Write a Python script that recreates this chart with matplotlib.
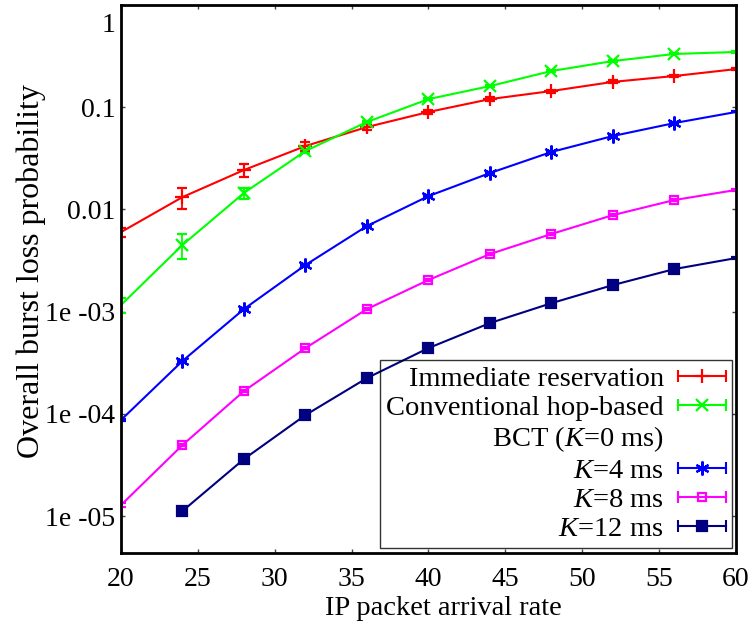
import matplotlib
matplotlib.use("Agg")
import matplotlib.pyplot as plt
import matplotlib.transforms as mtransforms
import numpy as np
from matplotlib.lines import Line2D
from matplotlib.legend_handler import HandlerLine2D

plt.rcParams['font.family'] = ['Liberation Serif', 'DejaVu Serif']
plt.rcParams['mathtext.fontset'] = 'custom'
plt.rcParams['mathtext.rm'] = 'Liberation Serif'
plt.rcParams['mathtext.it'] = 'Liberation Serif:italic'

# ---- data ----
rate = [20, 24, 28, 32, 36, 40, 44, 48, 52, 56, 60]
rate_k12 = [24, 28, 32, 36, 40, 44, 48, 52, 56, 60]

immediate = [6.0e-3, 0.0132, 0.0243, 0.0417, 0.064, 0.0898, 0.120, 0.144, 0.177, 0.202, 0.236]
immediate_err = [0.0006, 0.003, 0.0035, 0.004, 0.004, 0.004, 0.005, 0.005, 0.006, 0.006, 0.007]

conventional = [1.16e-3, 4.49e-3, 0.0145, 0.0373, 0.0717, 0.120, 0.161, 0.226, 0.283, 0.332, 0.347]
conventional_err = [0.0002, 0.0012, 0.0018, 0.002, 0.002, 0.003, 0.003, 0.004, 0.004, 0.004, 0.004]

k4 = [8.7e-5, 3.29e-4, 1.06e-3, 2.86e-3, 6.88e-3, 0.0135, 0.0227, 0.0365, 0.0523, 0.070, 0.0898]
k4_err = [2e-6, 8e-6, 2e-5, 5e-5, 1e-4, 2e-4, 3e-4, 5e-4, 7e-4, 9e-4, 1e-3]

k8 = [1.28e-5, 4.95e-5, 1.67e-4, 4.40e-4, 1.06e-3, 2.04e-3, 3.66e-3, 5.75e-3, 8.8e-3, 0.01236, 0.01549]
k8_err = [5e-7, 1.5e-6, 4e-6, 1e-5, 2e-5, 4e-5, 7e-5, 1e-4, 1.5e-4, 2e-4, 2.5e-4]

k12 = [1.12e-5, 3.61e-5, 9.73e-5, 2.24e-4, 4.40e-4, 7.73e-4, 1.21e-3, 1.82e-3, 2.61e-3, 3.34e-3]
k12_err = [6e-7, 1.5e-6, 3e-6, 6e-6, 1.2e-5, 2e-5, 3e-5, 4e-5, 5e-5, 6e-5]

labels = ['Immediate reservation', 'Conventional hop-based',
          '$K$=4 ms', '$K$=8 ms', '$K$=12 ms']
label_cont = 'BCT ($K$=0 ms)'
yticks = [1e-5, 1e-4, 1e-3, 1e-2, 1e-1, 1]
ytick_labels = ['1e -05', '1e -04', '1e -03', '0.01', '0.1', '1']
xticks = [20, 25, 30, 35, 40, 45, 50, 55, 60]

series = [
    (rate, immediate, immediate_err, 'red', '+', 10, 'red'),
    (rate, conventional, conventional_err, '#00ff00', 'x', 8, '#00ff00'),
    (rate, k4, k4_err, 'blue', (6, 2, 0), 10, 'blue'),
    (rate, k8, k8_err, '#ff00ff', 's', 6, 'none'),
    (rate_k12, k12, k12_err, '#000080', 's', 7, '#000080'),
]

fig = plt.figure(figsize=(7.52, 6.34), dpi=100)
ax = fig.add_axes([0.1609, 0.1278, 0.8178, 0.8643])

handles = []
leg_labels = []
hmap = {}
for (xs, ys, es, col, mk, ms, mfc), lab in zip(series, labels):
    xs = np.array(xs, float)
    ys = np.array(ys, float)
    es = np.array(es, float)
    lower = np.minimum(es, ys * 0.95)
    inner = np.where((xs > 20) & (xs < 60))[0]
    ax.errorbar(xs, ys, yerr=[lower, es], color=col, lw=1.5, elinewidth=1.3,
                capsize=3.5, capthick=1.3, marker=mk, ms=ms, mfc=mfc,
                mec=col, mew=1.6, markevery=list(inner))
    caps = Line2D([], [], color=col, lw=1.5, marker='|', ms=9, mew=1.5)
    mline = Line2D([], [], color=col, lw=0, marker=mk, ms=ms, mfc=mfc, mec=col, mew=1.6)
    hmap[caps] = HandlerLine2D(numpoints=2, marker_pad=0)
    hmap[mline] = HandlerLine2D(numpoints=1)
    handles.append((caps, mline))
    leg_labels.append(lab)
    if lab == labels[1]:
        blank = Line2D([], [], lw=0, marker=None, color='none')
        handles.append(blank)
        leg_labels.append(label_cont)

ax.set_yscale('log')
ax.set_xlim(20, 60)
ax.set_ylim(4.35e-6, 1.0)
ax.set_yticks(yticks)
ax.set_yticklabels(ytick_labels)
ax.yaxis.set_minor_locator(matplotlib.ticker.NullLocator())
ax.set_xticks(xticks)
ax.tick_params(axis='both', which='major', direction='in', length=3, width=1,
               color='#444444', labelsize=20, top=True, right=True)
ax.tick_params(axis='x', pad=10)
ax.tick_params(axis='y', pad=4)
top_lab = ax.get_yticklabels()[-1]
top_lab.set_verticalalignment('top')
top_lab.set_transform(top_lab.get_transform() +
                      mtransforms.ScaledTranslation(0, -6 / 72, fig.dpi_scale_trans))

for s in ax.spines.values():
    s.set_linewidth(2.0)
    s.set_color('black')

ax.set_xlabel('IP packet arrival rate', fontsize=20.5)
ax.set_ylabel('Overall burst loss probability', fontsize=23)
ax.xaxis.set_label_coords(0.525, -0.078)
ax.yaxis.set_label_coords(-0.122, 0.514)

leg = ax.legend(handles, leg_labels, handler_map=hmap, loc='lower right',
                bbox_to_anchor=(0.9935, 0.009), borderaxespad=0, fontsize=20.5,
                markerfirst=False, fancybox=False, edgecolor='black',
                handlelength=1.7, handletextpad=0.5, labelspacing=0.12,
                borderpad=0.2)
leg.get_frame().set_linewidth(1.0)
leg.get_frame().set_facecolor('none')

fig.savefig('out.png', dpi=100)
